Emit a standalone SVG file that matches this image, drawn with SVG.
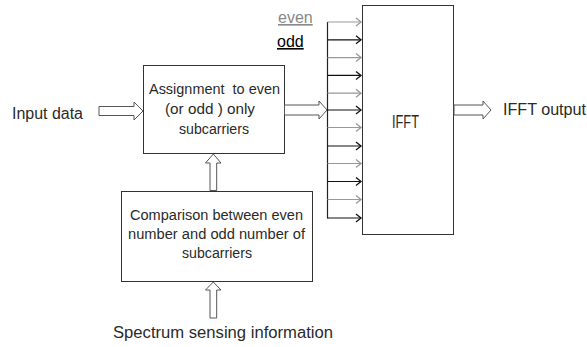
<svg xmlns="http://www.w3.org/2000/svg" width="587" height="347" viewBox="0 0 587 347">
<style>
.box{fill:#fff;stroke:#333;stroke-width:1}
.blk{fill:#fff;stroke:#555;stroke-width:1}
.t{font-family:"Liberation Sans",Arial,sans-serif;fill:#2a2a2a}
.g{stroke:#999;stroke-width:1.2;fill:none}
.k{stroke:#111;stroke-width:1.2;fill:none}
</style>
<defs>
<marker id="mg" markerWidth="8" markerHeight="10" refX="6" refY="5" orient="auto" markerUnits="userSpaceOnUse"><path d="M1,1 L6,5 L1,9" fill="none" stroke="#999" stroke-width="1.3"/></marker>
<marker id="mk" markerWidth="8" markerHeight="10" refX="6" refY="5" orient="auto" markerUnits="userSpaceOnUse"><path d="M1,1 L6,5 L1,9" fill="none" stroke="#111" stroke-width="1.3"/></marker>
</defs>
<rect width="587" height="347" fill="#fff"/>
<g id="input-label"><text class="t" x="12" y="119" font-size="16" textLength="71" lengthAdjust="spacingAndGlyphs">Input data</text></g>
<g id="assign"><rect class="box" x="143.5" y="65.5" width="141" height="88"/>
<text class="t" font-size="15.5" xml:space="preserve"><tspan x="149" y="94" textLength="131" lengthAdjust="spacingAndGlyphs">Assignment  to even</tspan><tspan x="165" y="114" textLength="90" lengthAdjust="spacingAndGlyphs">(or odd ) only</tspan><tspan x="179" y="134" textLength="70" lengthAdjust="spacingAndGlyphs">subcarriers</tspan></text></g>
<g id="compare"><rect class="box" x="121.5" y="191.5" width="191" height="90"/>
<text class="t" font-size="15.5"><tspan x="130" y="220" textLength="173" lengthAdjust="spacingAndGlyphs">Comparison between even</tspan><tspan x="128" y="239" textLength="177" lengthAdjust="spacingAndGlyphs">number and odd number of</tspan><tspan x="182" y="258" textLength="70" lengthAdjust="spacingAndGlyphs">subcarriers</tspan></text></g>
<g id="ifft"><rect class="box" x="362.5" y="5.5" width="91" height="229"/>
<text class="t" x="392" y="128" font-size="18" textLength="27" lengthAdjust="spacingAndGlyphs">IFFT</text></g>
<g id="output-label"><text class="t" x="503" y="115" font-size="16" textLength="83" lengthAdjust="spacingAndGlyphs">IFFT output</text></g>
<g id="spectrum-label"><text class="t" x="113" y="338" font-size="16" textLength="220" lengthAdjust="spacingAndGlyphs">Spectrum sensing information</text></g>
<g id="legend">
<text x="278" y="23" font-size="16" class="t" style="fill:#888" text-decoration="underline">even</text>
<text x="277" y="47" font-size="16" class="t" style="fill:#000" text-decoration="underline">odd</text>
</g>
<g id="connectors">
<polygon class="blk" points="99,106.5 134,106.5 134,102 143,111 134,120 134,115.5 99,115.5"/>
<polygon class="blk" points="284.5,105 319,105 319,101 327,110 319,119 319,115 284.5,115"/>
<polygon class="blk" points="454,105 483,105 483,101 491,110 483,119 483,115 454,115"/>
<polygon class="blk" points="210,190.5 210,163 205.5,163 213.3,154 221,163 216.7,163 216.7,190.5"/>
<polygon class="blk" points="210,318 210,290 205.5,290 213.3,282 221,290 216.7,290 216.7,318"/>
<line x1="327.5" y1="22" x2="327.5" y2="218.5" stroke="#222" stroke-width="1.2"/>
<line class="g" x1="327.5" y1="22" x2="361" y2="22" marker-end="url(#mg)"/>
<line class="k" x1="327.5" y1="39.8" x2="361" y2="39.8" marker-end="url(#mk)"/>
<line class="g" x1="327.5" y1="57.6" x2="361" y2="57.6" marker-end="url(#mg)"/>
<line class="k" x1="327.5" y1="75.4" x2="361" y2="75.4" marker-end="url(#mk)"/>
<line class="g" x1="327.5" y1="93.2" x2="361" y2="93.2" marker-end="url(#mg)"/>
<line class="k" x1="327.5" y1="110" x2="361" y2="110" marker-end="url(#mk)"/>
<line class="g" x1="327.5" y1="127.5" x2="361" y2="127.5" marker-end="url(#mg)"/>
<line class="k" x1="327.5" y1="146" x2="361" y2="146" marker-end="url(#mk)"/>
<line class="g" x1="327.5" y1="163.5" x2="361" y2="163.5" marker-end="url(#mg)"/>
<line class="k" x1="327.5" y1="181.5" x2="361" y2="181.5" marker-end="url(#mk)"/>
<line class="g" x1="327.5" y1="199.5" x2="361" y2="199.5" marker-end="url(#mg)"/>
<line class="k" x1="327.5" y1="218" x2="361" y2="218" marker-end="url(#mk)"/>
</g>
</svg>
